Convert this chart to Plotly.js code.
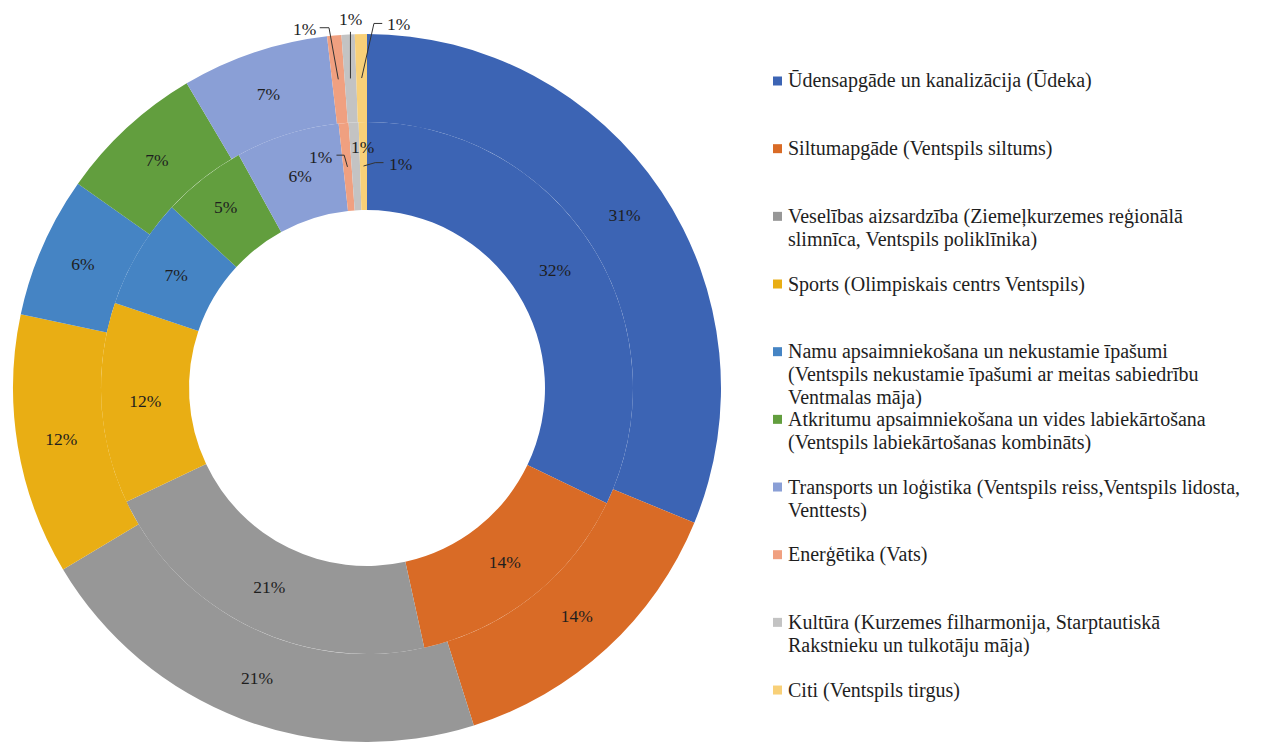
<!DOCTYPE html>
<html><head><meta charset="utf-8">
<script src="https://cdn.plot.ly/plotly-3.0.1.min.js"></script>
<style>html,body{margin:0;padding:0;background:#fff;} #chart{width:1262px;height:742px;}</style>
</head><body><div id="chart"></div>
<script>
// ---- data ----
const categories = [
  'Ūdensapgāde un kanalizācija (Ūdeka)',
  'Siltumapgāde (Ventspils siltums)',
  'Veselības aizsardzība (Ziemeļkurzemes reģionālā<br>slimnīca, Ventspils poliklīnika)',
  'Sports (Olimpiskais centrs Ventspils)',
  'Namu apsaimniekošana un nekustamie īpašumi<br>(Ventspils nekustamie īpašumi ar meitas sabiedrību<br>Ventmalas māja)',
  'Atkritumu apsaimniekošana un vides labiekārtošana<br>(Ventspils labiekārtošanas kombināts)',
  'Transports un loģistika (Ventspils reiss,Ventspils lidosta,<br>Venttests)',
  'Enerģētika (Vats)',
  'Kultūra (Kurzemes filharmonija, Starptautiskā<br>Rakstnieku un tulkotāju māja)',
  'Citi (Ventspils tirgus)'
];
const outerValues = [31.2, 13.9, 21.3, 11.9, 6.45, 6.7, 6.7, 0.65, 0.6, 0.55];
const innerValues = [32.1, 14.4, 21.4, 12.2, 6.7, 5.1, 6.3, 0.6, 0.6, 0.5];

// ---- style ----
const colors = ['#3C64B4', '#D96B26', '#979797', '#E9AE14', '#4584C4',
                '#629E3E', '#8A9FD6', '#F0A080', '#C3C3C3', '#F8D078'];
const W = 1262, H = 742;
const CX = 367, CY = 388, R_OUT = 354, R_MID = 266, R_IN = 178;
const FONT = 'Liberation Serif';
const TXT = '#1e1e1e';
const SMALL = 2; // slices below this value get external labels
// label placement (pixels, relative to the point inside the slice)
const smallPlacement = {
  outer: [
    {t: [-34, -50], path: [[-18.6, -51.6], [-9.3, -51.6], [0, 0]]},
    {t: [0, -59], path: [[0, -46.6], [0, 0]]},
    {t: [37, -54], path: [[20.6, -54.6], [12.3, -54.6], [0, 0]]}
  ],
  inner: [
    {t: [-27, -10], path: [[-11, -11.7], [-3.3, -11.7], [0, 0]]},
    {t: [7, -19], path: null},
    {t: [37, -2], path: [[20, -3.4], [11.7, -3.4], [0, 0]]}
  ]
};
const LEG = {swX: 773, sw: 9, txtX: 786, firstY: 81, slot: 67.67, lineGap: 23, size: 20};

const px = x => x / W;
const py = y => 1 - y / H;
const plainNames = categories.map(c => c.replace(/<br>/g, ' '));

function pieTrace(values, r, hole) {
  return {
    type: 'pie', values: values, labels: plainNames, sort: false,
    direction: 'clockwise', rotation: 0, hole: hole,
    domain: {x: [px(CX - r), px(CX + r)], y: [(H - CY - r) / H, (H - CY + r) / H]},
    marker: {colors: colors, line: {width: 0}},
    texttemplate: values.map(v => v < SMALL ? '' : '%{percent:.0%}'),
    textposition: 'inside', insidetextorientation: 'horizontal',
    textfont: {family: FONT, size: 17.5, color: TXT},
    showlegend: false, hoverinfo: 'label+percent'
  };
}
const data = [
  pieTrace(outerValues, R_OUT, R_MID / R_OUT),
  pieTrace(innerValues, R_MID, R_IN / R_MID)
];

const annotations = [], shapes = [];
function smallLabels(values, rRing, placement) {
  const total = values.reduce((a, b) => a + b, 0);
  let cum = 0, k = 0;
  values.forEach((v, i) => {
    const mid = (cum + v / 2) / total * 2 * Math.PI;
    cum += v;
    if (v >= SMALL) return;
    const ax = CX + rRing * Math.sin(mid), ay = CY - rRing * Math.cos(mid);
    const p = placement[k++];
    annotations.push({xref: 'paper', yref: 'paper', x: px(ax + p.t[0]), y: py(ay + p.t[1]),
      xanchor: 'center', yanchor: 'middle', showarrow: false,
      text: Math.round(v / total * 100) + '%', font: {family: FONT, size: 17.5, color: TXT}});
    if (p.path) {
      const d = p.path.map((q, j) => (j ? 'L' : 'M') + px(ax + q[0]) + ',' + py(ay + q[1])).join(' ');
      shapes.push({type: 'path', xref: 'paper', yref: 'paper', path: d, line: {color: '#333', width: 1}});
    }
  });
}
smallLabels(outerValues, (R_OUT + R_MID) / 2, smallPlacement.outer);
smallLabels(innerValues, (R_MID + R_IN) / 2, smallPlacement.inner);

// legend
categories.forEach((c, i) => {
  const y0 = LEG.firstY + i * LEG.slot;
  shapes.push({type: 'rect', xref: 'paper', yref: 'paper',
    x0: px(LEG.swX), x1: px(LEG.swX + LEG.sw), y0: py(y0 - LEG.sw / 2), y1: py(y0 + LEG.sw / 2),
    fillcolor: colors[i], line: {width: 0}});
  c.split('<br>').forEach((line, j) => {
    annotations.push({xref: 'paper', yref: 'paper', x: px(LEG.txtX), y: py(y0 + j * LEG.lineGap),
      xanchor: 'left', yanchor: 'middle', showarrow: false, text: line,
      font: {family: FONT, size: LEG.size, color: TXT}});
  });
});

const layout = {
  width: W, height: H, margin: {l: 0, r: 0, t: 0, b: 0},
  font: {family: FONT},
  paper_bgcolor: '#fff', plot_bgcolor: '#fff', showlegend: false,
  annotations: annotations, shapes: shapes
};
Plotly.newPlot('chart', data, layout, {displayModeBar: false});
</script></body></html>
